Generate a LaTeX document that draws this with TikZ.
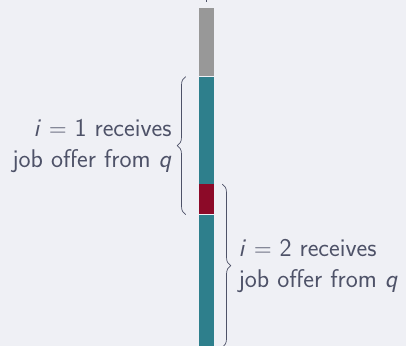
\documentclass[tikz,border=0pt]{standalone}
\usepackage{tikz}
\usetikzlibrary{decorations.pathreplacing}
\usetikzlibrary{positioning}
\usetikzlibrary{calc}

\definecolor{bgcol}{RGB}{239,240,245}
\definecolor{txtcol}{RGB}{78,82,104}
\definecolor{barteal}{RGB}{46,127,140}
\definecolor{barred}{RGB}{140,10,40}
\definecolor{bargray}{RGB}{152,152,152}

\begin{document}
\begin{tikzpicture}[x=0.025cm, y=-0.025cm, every node/.style={font=\sffamily\fontsize{18.2}{22}\selectfont, text=txtcol}, seg/.style={rectangle, inner sep=0pt, minimum width=15*0.025cm}, brc/.style={draw=txtcol, line width=0.5pt, decorate, decoration={brace, amplitude=6pt}}]
        % Background and bounding box
        \fill[bgcol] (0,0) rectangle (406,346);
        \useasboundingbox (0,0) rectangle (406,346);

        % Define the horizontal centre of the bar
        \def\bx{206.5}

        % Draw the segments of the bar
        \node[seg, fill=bargray, minimum height=68*0.025cm, anchor=north] (g) at (\bx,8) {};
        \node[seg, fill=barteal, minimum height=107*0.025cm, anchor=north] (t1) at (g.south) {};
        \node[seg, fill=barred, minimum height=30*0.025cm, anchor=north] (r) at (t1.south) {};
        \node[seg, fill=barteal, minimum height=133*0.025cm, anchor=north] (t2) at (r.south) {};

        % Small tick above the bar
        \coordinate (tick) at (\bx,0);
        \draw[txtcol, line width=0.5pt] (tick) -- ++(0,2);

        % Brace ends
        \coordinate (l1) at ($(r.south west)+(-13,0)$);
        \coordinate (l2) at ($(t1.north west)+(-13,0)$);
        \coordinate (r1) at ($(r.north east)+(8,0)$);
        \coordinate (r2) at ($(t2.south east)+(8,-1)$);

        \draw[brc] (l1) -- (l2) node[midway, left=6.5pt, align=right] (a) {\textit{i} $=$ 1 receives\\job offer from \textit{q}};
        \draw[brc] (r1) -- (r2) node[midway, right=8pt, align=left] (b) {\textit{i} $=$ 2 receives\\job offer from \textit{q}};
      \end{tikzpicture}
\end{document}
